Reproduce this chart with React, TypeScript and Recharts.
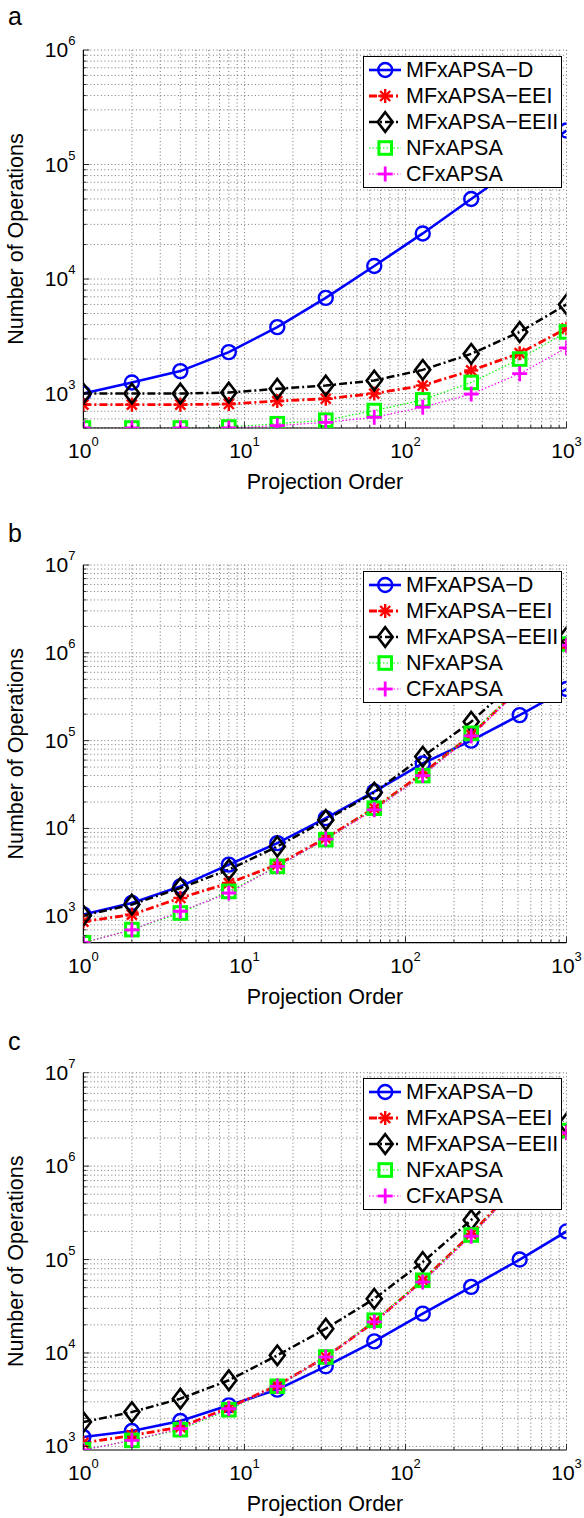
import React from "react";
import { LineChart, Line, XAxis, YAxis, CartesianGrid, Legend } from "recharts";

const FONT = '"Liberation Sans", Arial, Helvetica, sans-serif';

// projection orders (x)
const orders = [1, 2, 4, 8, 16, 32, 64, 128, 256, 512, 1000];

const seriesKeys = ["D", "EEI", "EEII", "NF", "CF"];
const seriesNames = ["MFxAPSA−D", "MFxAPSA−EEI", "MFxAPSA−EEII", "NFxAPSA", "CFxAPSA"];

// panel a
const aD = [1000, 1250, 1570, 2300, 3800, 6850, 13000, 25000, 50000, 100000, 198000];
const aEEI = [800, 800, 800, 810, 860, 900, 1000, 1175, 1590, 2250, 3700];
const aEEII = [1000, 1000, 1000, 1020, 1100, 1175, 1300, 1610, 2220, 3450, 6000];
const aNF = [500, 500, 500, 510, 545, 585, 710, 880, 1250, 2000, 3450];
const aCF = [500, 500, 500, 500, 525, 560, 620, 760, 990, 1490, 2500];

// panel b
const bD = [1050, 1420, 2190, 3870, 6810, 13100, 26300, 55000, 100000, 195000, 387000];
const bEEI = [870, 1045, 1615, 2390, 3860, 7770, 17000, 42500, 116000, 400000, 1220000];
const bEEII = [1020, 1360, 2100, 3390, 6230, 12500, 25600, 65800, 164000, 520000, 1500000];
const bNF = [500, 705, 1090, 1920, 3700, 7450, 17000, 40000, 121000, 400000, 1260000];
const bCF = [500, 700, 1140, 1840, 3700, 7560, 16300, 40000, 113000, 380000, 1220000];

// panel c
const cD = [1260, 1460, 1870, 2750, 4050, 7200, 13300, 26400, 51000, 100000, 200000];
const cEEI = [1090, 1310, 1610, 2600, 4500, 9050, 21500, 60000, 188000, 660000, 2300000];
const cEEII = [1820, 2330, 3240, 5100, 9430, 18200, 38000, 94000, 265000, 850000, 2860000];
const cNF = [920, 1160, 1510, 2470, 4400, 9050, 22400, 60000, 183000, 650000, 2400000];
const cCF = [915, 1160, 1550, 2530, 4400, 9050, 21500, 57500, 178000, 640000, 2270000];

const LEFT = 83.4;
const RIGHT = 566.5;
const YW = 60; // y axis band width
const XH = 60; // x axis band height

const styles: Record<string, any> = {
  D: { color: "#0000ff", width: 2.6, dash: undefined, marker: "circle" },
  EEI: { color: "#ff0000", width: 2.8, dash: "8 3 2 3", marker: "star" },
  EEII: { color: "#000000", width: 2.5, dash: "8 3 2 3", marker: "diamond" },
  NF: { color: "#00ff00", width: 1.2, dash: "1.5 2", marker: "square" },
  CF: { color: "#ff00ff", width: 1.2, dash: "1.5 2", marker: "plus" },
};

function logTicks(lo: number, hi: number) {
  const out: number[] = [];
  for (let e = Math.floor(Math.log10(lo)); e <= Math.ceil(Math.log10(hi)); e++) {
    for (let m = 1; m <= 9; m++) {
      const v = m * Math.pow(10, e);
      if (v >= lo - 1e-9 && v <= hi + 1e-9) out.push(v);
    }
  }
  return out;
}
const xTicks = logTicks(1, 1000);

function isMajor(v: number) {
  const l = Math.log10(v);
  return Math.abs(l - Math.round(l)) < 1e-6;
}

function Marker({ kind, cx, cy, color }: any) {
  if (cx == null || cy == null) return null;
  switch (kind) {
    case "circle":
      return <circle cx={cx} cy={cy} r={7} fill="none" stroke={color} strokeWidth={2.4} />;
    case "star":
      return (
        <g stroke={color} strokeWidth={2.4}>
          <line x1={cx - 7} y1={cy} x2={cx + 7} y2={cy} />
          <line x1={cx} y1={cy - 7} x2={cx} y2={cy + 7} />
          <line x1={cx - 5} y1={cy - 5} x2={cx + 5} y2={cy + 5} />
          <line x1={cx - 5} y1={cy + 5} x2={cx + 5} y2={cy - 5} />
        </g>
      );
    case "diamond":
      return (
        <polygon
          points={`${cx},${cy - 9.8} ${cx + 7.5},${cy} ${cx},${cy + 9.8} ${cx - 7.5},${cy}`}
          fill="none"
          stroke={color}
          strokeWidth={2.6}
        />
      );
    case "square":
      return <rect x={cx - 6.3} y={cy - 6.3} width={12.6} height={12.6} fill="none" stroke={color} strokeWidth={3} />;
    case "plus":
      return (
        <g stroke={color} strokeWidth={2.8}>
          <line x1={cx - 7.5} y1={cy} x2={cx + 7.5} y2={cy} />
          <line x1={cx} y1={cy - 7.5} x2={cx} y2={cy + 7.5} />
        </g>
      );
  }
  return null;
}

function LegendBox() {
  return (
    <div
      style={{
        boxSizing: "border-box",
        width: 199,
        height: 132,
        border: "1.5px solid #000",
        background: "#fff",
        fontFamily: FONT,
      }}
    >
      {seriesKeys.map((k, i) => {
        const s = styles[k];
        return (
          <div key={k} style={{ display: "flex", alignItems: "center", height: 26 }}>
            <svg width={42} height={26} style={{ flex: "none" }}>
              <line x1={5} x2={37} y1={13} y2={13} stroke={s.color} strokeWidth={s.width} strokeDasharray={s.dash} />
              <Marker kind={s.marker} cx={21.2} cy={13} color={s.color} />
            </svg>
            <span style={{ fontSize: 21.5, lineHeight: "26px", color: "#000", whiteSpace: "nowrap" }}>
              {seriesNames[i]}
            </span>
          </div>
        );
      })}
    </div>
  );
}

const panels = [
  { letter: "a", T: 0, H: 505, plotTop: 50, plotBottom: 428, yDomain: [500, 1e6], legendTop: 56, letterY: 25,
    series: { D: aD, EEI: aEEI, EEII: aEEII, NF: aNF, CF: aCF } as Record<string, number[]> },
  { letter: "b", T: 505, H: 508, plotTop: 565, plotBottom: 942.7, yDomain: [500, 1e7], legendTop: 570.7, letterY: 542,
    series: { D: bD, EEI: bEEI, EEII: bEEII, NF: bNF, CF: bCF } as Record<string, number[]> },
  { letter: "c", T: 1013, H: 505, plotTop: 1072.7, plotBottom: 1450, yDomain: [915, 1e7], legendTop: 1078, letterY: 1050,
    series: { D: cD, EEI: cEEI, EEII: cEEII, NF: cNF, CF: cCF } as Record<string, number[]> },
];

function Panel({ p }: { p: (typeof panels)[number] }) {
  const data = orders.map((x, i) => {
    const row: any = { x };
    seriesKeys.forEach((k) => (row[k] = p.series[k][i]));
    return row;
  });
  const yTicks = logTicks(p.yDomain[0], p.yDomain[1]);
  const axisY = p.plotBottom - p.T;
  const midY = (p.plotTop + p.plotBottom) / 2 - p.T;

  const XTick = (props: any) => {
    const v = props.payload.value;
    const x = props.x;
    const major = isMajor(v);
    return (
      <g>
        <line x1={x} x2={x} y1={axisY} y2={axisY - (major ? 6 : 3)} stroke="#000" strokeWidth={0.8} />
        {major && (
          <text x={x} y={axisY + 30} textAnchor="middle" fontSize={21} fontFamily={FONT} fill="#000">
            10<tspan dy={-12} fontSize={13}>{Math.round(Math.log10(v))}</tspan>
          </text>
        )}
      </g>
    );
  };

  const YTick = (props: any) => {
    const v = props.payload.value;
    const y = props.y;
    const major = isMajor(v);
    return (
      <g>
        <line x1={LEFT} x2={LEFT + (major ? 6 : 3)} y1={y} y2={y} stroke="#000" strokeWidth={0.8} />
        {major && (
          <text x={LEFT - 8} y={y + 7} textAnchor="end" fontSize={21} fontFamily={FONT} fill="#000">
            10<tspan dy={-12} fontSize={13}>{Math.round(Math.log10(v))}</tspan>
          </text>
        )}
      </g>
    );
  };

  return (
    <div style={{ position: "absolute", left: 0, top: p.T, width: 584, height: p.H }}>
      <LineChart
        width={584}
        height={p.H}
        data={data}
        margin={{ top: p.plotTop - p.T, right: 584 - RIGHT, bottom: p.T + p.H - p.plotBottom - XH, left: LEFT - YW }}
      >
        <CartesianGrid stroke="#666" strokeWidth={0.9} strokeDasharray="1 2.5" syncWithTicks />
        <XAxis
          dataKey="x"
          type="number"
          scale="log"
          domain={[1, 1000]}
          ticks={xTicks}
          interval={0}
          allowDataOverflow
          height={XH}
          tickSize={0}
          tickMargin={0}
          tickLine={false}
          axisLine={{ stroke: "#000", strokeWidth: 1.2 }}
          tick={XTick}
          label={{
            content: () => (
              <text x={(LEFT + RIGHT) / 2} y={axisY + 61} textAnchor="middle" fontSize={21.5} fontFamily={FONT} fill="#000">
                Projection Order
              </text>
            ),
          }}
        />
        <YAxis
          type="number"
          scale="log"
          domain={p.yDomain}
          ticks={yTicks}
          interval={0}
          allowDataOverflow
          width={YW}
          tickSize={0}
          tickMargin={0}
          tickLine={false}
          axisLine={{ stroke: "#000", strokeWidth: 1.2 }}
          tick={YTick}
          label={{
            content: () => (
              <text
                x={23}
                y={midY}
                transform={`rotate(-90, 23, ${midY})`}
                textAnchor="middle"
                fontSize={21.5}
                fontFamily={FONT}
                fill="#000"
              >
                Number of Operations
              </text>
            ),
          }}
        />
        {seriesKeys.map((k) => {
          const s = styles[k];
          return (
            <Line
              key={k}
              dataKey={k}
              name={seriesNames[seriesKeys.indexOf(k)]}
              type="linear"
              stroke={s.color}
              strokeWidth={s.width}
              strokeDasharray={s.dash}
              isAnimationActive={false}
              activeDot={false}
              dot={(d: any) => <Marker key={`${k}-${d.index}`} kind={s.marker} cx={d.cx} cy={d.cy} color={s.color} />}
            />
          );
        })}
        <Legend
          layout="vertical"
          align="center"
          verticalAlign="middle"
          width={199}
          height={132}
          wrapperStyle={{ left: 363, top: p.legendTop - p.T, right: "auto", bottom: "auto", width: 199, height: 132 }}
          content={() => <LegendBox />}
        />
      </LineChart>
    </div>
  );
}

export default function App() {
  return (
    <div style={{ position: "absolute", left: 0, top: 0, width: 584, height: 1518, background: "#fff", overflow: "hidden" }}>
      <svg width={584} height={1518} style={{ position: "absolute", left: 0, top: 0 }}>
        {panels.map((p) => (
          <text key={p.letter} x={8} y={p.letterY} fontSize={25} fontFamily={FONT} fill="#000">
            {p.letter}
          </text>
        ))}
      </svg>
      {panels.map((p) => (
        <Panel key={p.letter} p={p} />
      ))}
    </div>
  );
}
